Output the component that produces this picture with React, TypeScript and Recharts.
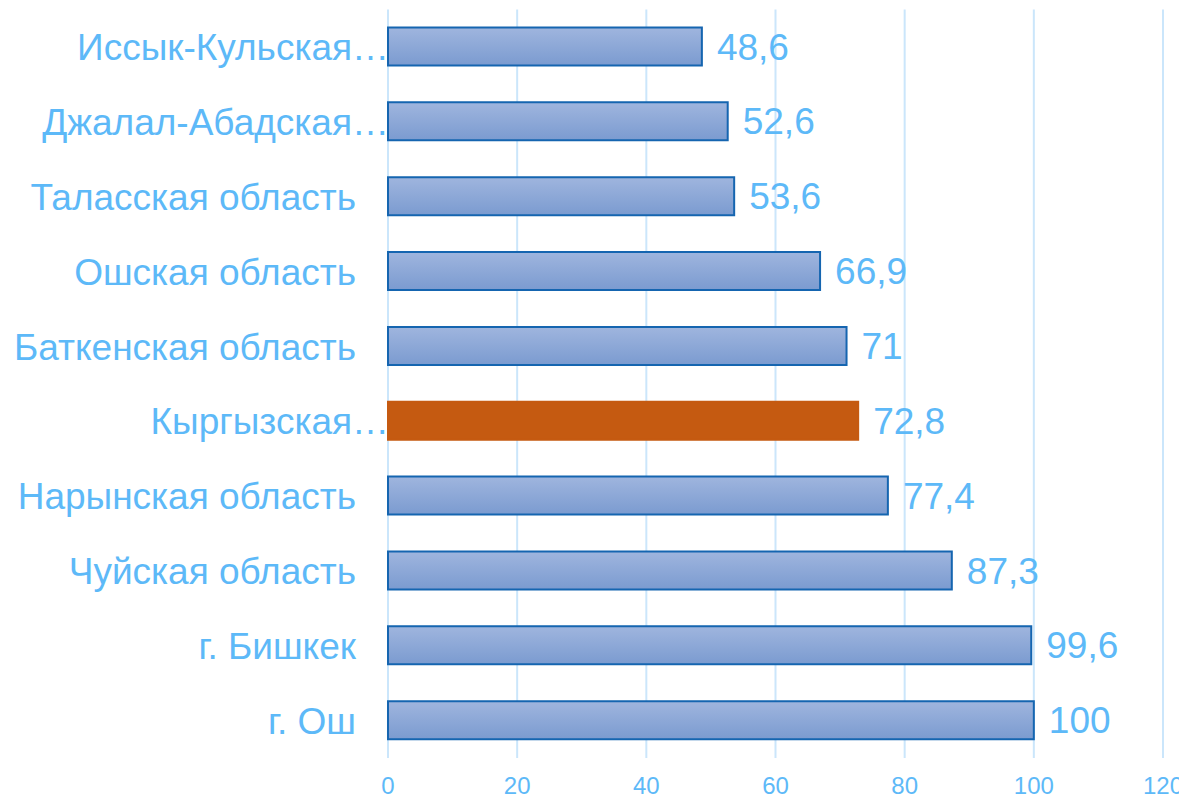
import { BarChart, Bar, XAxis, YAxis, CartesianGrid, Cell, LabelList } from 'recharts';

const regions = [
  'Иссык-Кульская…',
  'Джалал-Абадская…',
  'Таласская область',
  'Ошская область',
  'Баткенская область',
  'Кыргызская…',
  'Нарынская область',
  'Чуйская область',
  'г. Бишкек',
  'г. Ош',
];
const values = [48.6, 52.6, 53.6, 66.9, 71, 72.8, 77.4, 87.3, 99.6, 100];
const highlighted = ['Кыргызская…'];
const xTicks = [0, 20, 40, 60, 80, 100, 120];

const FONT = '"Liberation Sans", Arial, sans-serif';
const TEXT = '#5DB9F8';

const data = regions.map((name, i) => ({ name, value: values[i] }));

function CategoryTick({ x, y, payload }: any) {
  const label: string = payload.value;
  // Excel keeps a gap after full labels; cut-off ones run to the axis
  const shift = label.endsWith('…') ? 9 : -24;
  return (
    <text x={x + shift} y={y} dy="0.36em" textAnchor="end" fill={TEXT} fontSize={37} fontFamily={FONT}>
      {label}
    </text>
  );
}

export default function App() {
  return (
    <BarChart
      width={1179}
      height={790}
      data={data}
      layout="vertical"
      barSize={38}
      margin={{ top: 1.5, right: 24, bottom: 10, left: 0 }}
    >
      <defs>
        <linearGradient id="barFill" x1="0" y1="0" x2="0" y2="1">
          <stop offset="0%" stopColor="#9FB5DE" />
          <stop offset="100%" stopColor="#7B9BD0" />
        </linearGradient>
      </defs>
      <CartesianGrid horizontal={false} stroke="#CBE6FB" strokeWidth={2} />
      <XAxis
        type="number"
        domain={[0, 120]}
        ticks={xTicks}
        axisLine={false}
        tickLine={false}
        height={30}
        tickMargin={13}
        tick={{ fill: TEXT, fontSize: 24, fontFamily: FONT }}
      />
      <YAxis
        type="category"
        dataKey="name"
        width={380}
        axisLine={false}
        tickLine={false}
        interval={0}
        tick={<CategoryTick />}
      />
      <Bar dataKey="value" isAnimationActive={false} fill="url(#barFill)" stroke="#1565B0" strokeWidth={2}>
        {data.map((d) => (
          <Cell
            key={d.name}
            fill={highlighted.includes(d.name) ? '#C55A11' : 'url(#barFill)'}
            stroke={highlighted.includes(d.name) ? '#C55A11' : '#1565B0'}
          />
        ))}
        <LabelList
          dataKey="value"
          position="right"
          offset={15}
          fill={TEXT}
          fontSize={37}
          fontFamily={FONT}
          formatter={(v: any) => String(v).replace('.', ',')}
        />
      </Bar>
    </BarChart>
  );
}
